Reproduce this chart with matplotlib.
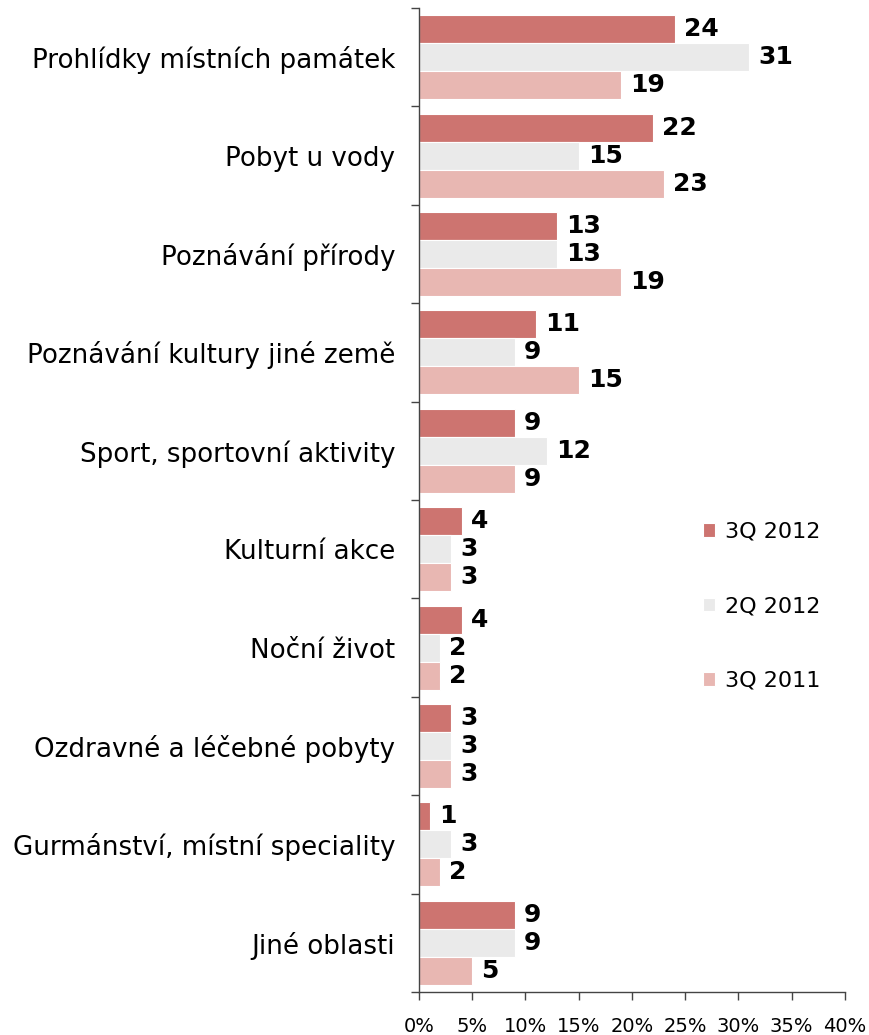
import matplotlib
matplotlib.use("Agg")
import matplotlib.pyplot as plt
from matplotlib.ticker import FixedLocator, FuncFormatter
import numpy as np

categories = [
    "Prohlídky místních památek",
    "Pobyt u vody",
    "Poznávání přírody",
    "Poznávání kultury jiné země",
    "Sport, sportovní aktivity",
    "Kulturní akce",
    "Noční život",
    "Ozdravné a léčebné pobyty",
    "Gurmánství, místní speciality",
    "Jiné oblasti",
]
series_names = ["3Q 2012", "2Q 2012", "3Q 2011"]
q3_2012 = [24, 22, 13, 11, 9, 4, 4, 3, 1, 9]
q2_2012 = [31, 15, 13, 9, 12, 3, 2, 3, 3, 9]
q3_2011 = [19, 23, 19, 15, 9, 3, 2, 3, 2, 5]
x_ticks = [0, 5, 10, 15, 20, 25, 30, 35, 40]

colors = ["#CD7470", "#EAEAEA", "#E8B7B2"]
series = [q3_2012, q2_2012, q3_2011]

fig = plt.figure(figsize=(8.7, 10.35), dpi=100)
ax = fig.add_axes([419 / 870, 1 - 992 / 1035, (845 - 419) / 870, (992 - 8) / 1035])

y = np.arange(len(categories))
h = 0.285
for i, (vals, col, name) in enumerate(zip(series, colors, series_names)):
    pos = y + (i - 1) * h
    ax.barh(pos, vals, height=h, color=col, edgecolor="white", linewidth=0.8, label=name)
    for p, v in zip(pos, vals):
        ax.text(v + 0.85, p, f"{v}", va="center", ha="left",
                fontsize=18, fontweight="bold", color="black")

ax.set_xlim(0, 40)
ax.set_ylim(len(categories) - 0.5, -0.5)

ax.xaxis.set_major_locator(FixedLocator(x_ticks))
ax.xaxis.set_major_formatter(FuncFormatter(lambda v, _: f"{int(v)}%"))
ax.tick_params(axis="x", labelsize=14, length=6, width=1, color="#444444", pad=12)

ax.set_yticks(y)
ax.set_yticklabels(categories, fontsize=18.8)
ax.set_yticks(np.arange(-0.5, len(categories), 1.0), minor=True)
ax.tick_params(axis="y", which="major", length=0, pad=17)
ax.tick_params(axis="y", which="minor", length=6, width=1, color="#444444")

for s in ["top", "right"]:
    ax.spines[s].set_visible(False)
for s in ["left", "bottom"]:
    ax.spines[s].set_color("#444444")
    ax.spines[s].set_linewidth(1)

leg = ax.legend(loc="upper left", bbox_to_anchor=(0.62, 0.498), frameon=False,
                fontsize=16, handlelength=0.55, handleheight=0.55,
                labelspacing=2.45, handletextpad=0.45)

fig.savefig("out.png", dpi=100)
